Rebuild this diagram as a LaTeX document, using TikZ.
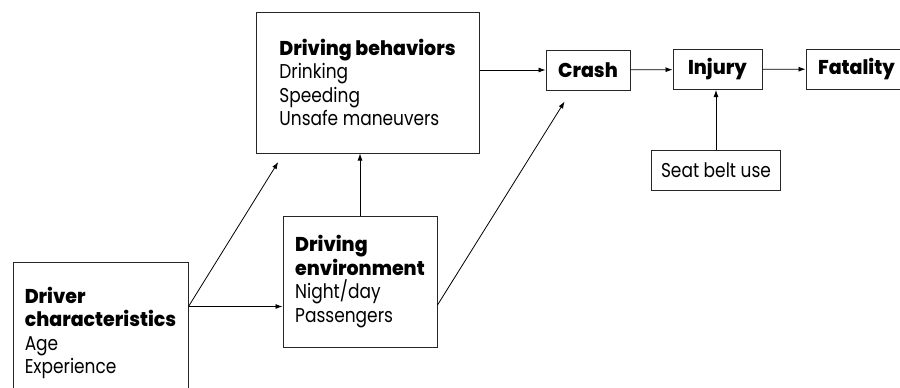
\documentclass[tikz,border=0pt]{standalone}
\usepackage{fontspec}
\setmainfont{Poppins}[UprightFeatures={FakeStretch=0.85}, BoldFont={* ExtraBold}, BoldFeatures={FakeStretch=0.95}]
\usetikzlibrary{arrows.meta,positioning}

\begin{document}
\begin{tikzpicture}[
  x=1pt, y=-1pt,
  font=\fontsize{20}{23.5}\selectfont,
  b/.style={draw=black!85, line width=1pt, align=left, inner sep=0pt},
  arr/.style={-{Latex[length=7pt,width=5pt]}, line width=0.8pt}
]
\useasboundingbox (0,0) rectangle (900,388);
\clip (0,0) rectangle (900,388);
\node[b, minimum width=223pt, minimum height=141pt] (behav) at (367.5,82.5) {\textbf{Driving behaviors}\\ Drinking\\ Speeding\\ Unsafe maneuvers};
\node[b, minimum width=84pt, minimum height=40pt] (crash) at (588,70) {\textbf{Crash}};
\node[b, minimum width=89pt, minimum height=40pt] (injury) at (717.5,69.5) {\textbf{Injury}};
\node[b, minimum width=101pt, minimum height=40pt] (fatal) at (856.5,69) {\textbf{Fatality}};
\node[b, minimum width=129pt, minimum height=40pt] (belt) at (716,170) {Seat belt use};
\node[b, minimum width=154pt, minimum height=131pt] (env) at (360,281.5) {\textbf{Driving}\\ \textbf{environment}\\ Night/day\\ Passengers};
\node[b, minimum width=175pt, minimum height=142pt] (driver) at (100.5,333) {\textbf{Driver}\\ \textbf{characteristics}\\ Age\\ Experience};
\coordinate (fork) at ([yshift=-45pt]driver.north east);
\draw[arr] (fork) -- (env.west |- fork);
\draw[arr, shorten >=10pt] (fork) -- ([xshift=28pt]behav.south west);
\draw[arr] (env.north) -- (env.north |- behav.south);
\draw[arr] (crash.west -| behav.east) -- (crash.west);
\draw[arr, shorten >=13pt] ([yshift=-23.5pt]env.east) -- ([xshift=26pt]crash.south west);
\draw[arr] (crash) -- (injury);
\draw[arr] (injury) -- (fatal);
\draw[arr] (belt.north) -- (belt.north |- injury.south);
\end{tikzpicture}
\end{document}
